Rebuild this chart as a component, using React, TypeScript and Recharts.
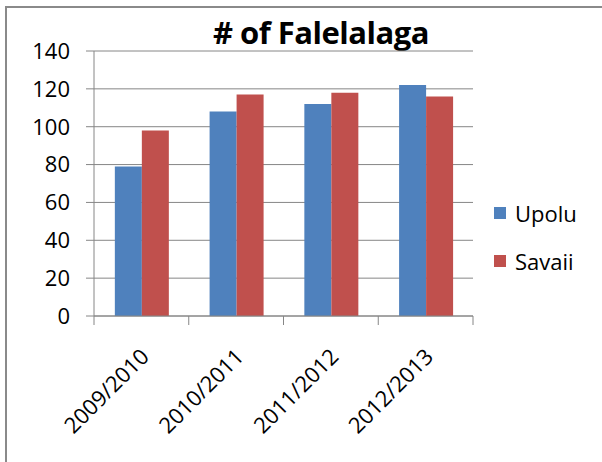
import { BarChart, Bar, XAxis, YAxis, CartesianGrid } from 'recharts';

const seasons = ['2009/2010', '2010/2011', '2011/2012', '2012/2013'];
const upolu = [79, 108, 112, 122];
const savaii = [98, 117, 118, 116];
const yTicks = [0, 20, 40, 60, 80, 100, 120, 140];

const series = [
  { key: 'upolu', name: 'Upolu', color: '#4F81BD' },
  { key: 'savaii', name: 'Savaii', color: '#C0504D' },
];

const data = seasons.map((season, i) => ({ season, upolu: upolu[i], savaii: savaii[i] }));

const FONT = '"Open Sans", sans-serif';
const GRAY = '#868686';
const FRAME = '#8a8a8a';

// label rotated like Excel, plus tick marks on the category boundaries
function SeasonTick({ x, y, payload, index, width, visibleTicksCount }) {
  const half = payload.offset || width / visibleTicksCount / 2;
  const ax = x + 9;
  const ay = y + 42;
  return (
    <g>
      <line x1={x - half} x2={x - half} y1={y} y2={y + 9} stroke={GRAY} />
      {index === visibleTicksCount - 1 && (
        <line x1={x + half} x2={x + half} y1={y} y2={y + 9} stroke={GRAY} />
      )}
      <text
        x={ax}
        y={ay}
        transform={`rotate(-45, ${ax}, ${ay})`}
        textAnchor="end"
        fontSize={22}
        fontFamily={FONT}
        fill="#000"
      >
        {payload.value}
      </text>
    </g>
  );
}

export default function App() {
  return (
    <div style={{ position: 'absolute', left: 0, top: 0, width: 602, height: 462, overflow: 'hidden', background: '#fff' }}>
      <div
        style={{
          position: 'absolute',
          left: 213,
          top: 17,
          fontFamily: FONT,
          fontWeight: 700,
          fontSize: 31,
          letterSpacing: -0.5,
          lineHeight: 1,
          whiteSpace: 'nowrap',
          color: '#000',
        }}
      >
        # of Falelalaga
      </div>
      <div style={{ position: 'absolute', left: 0, top: 0 }}>
        <BarChart
          width={490}
          height={462}
          data={data}
          margin={{ top: 51, right: 17, left: 0, bottom: 46 }}
          barCategoryGap="22%"
          barGap={0}
        >
          <CartesianGrid vertical={false} stroke={GRAY} />
          <XAxis
            dataKey="season"
            height={100}
            stroke={GRAY}
            tickLine={false}
            tickSize={0}
            tickMargin={0}
            interval={0}
            tick={SeasonTick}
          />
          <YAxis
            width={94}
            domain={[0, 140]}
            ticks={yTicks}
            tickSize={8}
            tickMargin={16}
            stroke={GRAY}
            tick={{ fill: '#000', fontSize: 22, fontFamily: FONT }}
          />
          {series.map((s) => (
            <Bar key={s.key} dataKey={s.key} name={s.name} fill={s.color} isAnimationActive={false} />
          ))}
        </BarChart>
      </div>
      <div style={{ position: 'absolute', left: 494, top: 199 }}>
        {series.map((s) => (
          <div key={s.key} style={{ display: 'flex', alignItems: 'center', height: 28, marginBottom: 20 }}>
            <div style={{ width: 12, height: 12, background: s.color, marginRight: 9 }} />
            <span style={{ fontFamily: FONT, fontSize: 22, lineHeight: 1, color: '#000' }}>{s.name}</span>
          </div>
        ))}
      </div>
      <div style={{ position: 'absolute', left: 5, top: 6, width: 597, height: 2, background: FRAME }} />
      <div style={{ position: 'absolute', left: 5, top: 6, width: 2, height: 456, background: FRAME }} />
    </div>
  );
}
